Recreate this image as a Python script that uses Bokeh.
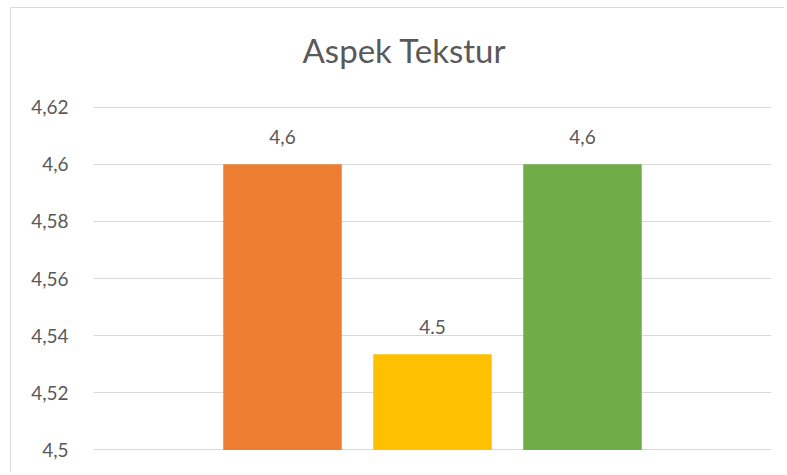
from bokeh.plotting import figure
from bokeh.models import FactorRange, Range1d, ColumnDataSource, FixedTicker, Title
from bokeh.core.properties import value
from bokeh.embed import file_html
from bokeh.resources import INLINE

# ---- data ----
series = ["S1", "S2", "S3"]
values = [4.6, 4.5335, 4.6]
value_labels = ["4,6", "4.5", "4,6"]
colors = ["#ED7D31", "#FFC000", "#70AD47"]
tick_values = [4.5, 4.52, 4.54, 4.56, 4.58, 4.6, 4.62]
tick_labels = ["4,5", "4,52", "4,54", "4,56", "4,58", "4,6", "4,62"]
title_text = "Aspek Tekstur"

FONT = "Lato"
TXT = "#595959"

src = ColumnDataSource(dict(x=series, top=values, lab=value_labels, color=colors))

p = figure(
    width=774, height=465,
    x_range=FactorRange(*series, range_padding=0.5067, range_padding_units="percent"),
    y_range=Range1d(4.4998, 4.6202),
    output_backend="svg", toolbar_location=None,
    min_border_left=82, min_border_right=14, min_border_bottom=23, min_border_top=98,
    title_location=None,
)
p.margin = (7, 0, 0, 10)
p.styles = {"border-left": "1px solid #D9D9D9", "border-top": "1px solid #D9D9D9"}

p.vbar(x="x", top="top", bottom=4.5, width=0.79, color="color", line_color=None, source=src)
p.text(x="x", y="top", text="lab", source=src, text_align="center", text_baseline="alphabetic",
       y_offset=-27, text_font=value(FONT), text_font_size="19px", text_color=TXT)

# spacer (closest to the frame), then the real title above it
spacer = Title(text=" ", text_font_size="1px", standoff=26)
p.add_layout(spacer, "above")
main_title = Title(text=title_text, align="left", offset=209, text_font=FONT,
                   text_font_size="33px", text_font_style="normal", text_color=TXT, standoff=16)
p.add_layout(main_title, "above")

p.xaxis.visible = False
p.xgrid.grid_line_color = None
p.ygrid.grid_line_color = "#D9D9D9"
p.ygrid.grid_line_width = 1.2

yax = p.yaxis[0]
yax.ticker = FixedTicker(ticks=tick_values)
yax.major_label_overrides = dict(zip(tick_values, tick_labels))
yax.axis_line_color = None
yax.major_tick_line_color = None
yax.minor_tick_line_color = None
yax.major_label_standoff = 19
yax.major_label_text_font = FONT
yax.major_label_text_font_size = "19px"
yax.major_label_text_color = TXT

p.outline_line_color = None
p.background_fill_color = "white"
p.border_fill_color = "white"

open("out.html", "w").write(file_html(p, INLINE))
